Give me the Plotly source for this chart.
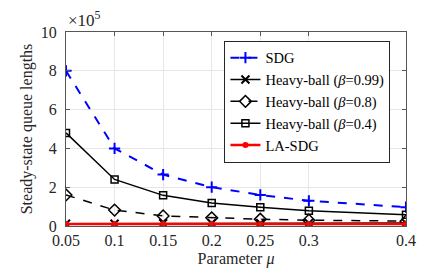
import plotly.graph_objects as go

mu = [0.05, 0.1, 0.15, 0.2, 0.25, 0.3, 0.4]
sdg = [8.0e5, 4.0e5, 2.65e5, 2.0e5, 1.6e5, 1.3e5, 0.97e5]
hb099 = [0.12e5, 0.12e5, 0.14e5, 0.15e5, 0.15e5, 0.15e5, 0.15e5]
hb08 = [1.6e5, 0.82e5, 0.52e5, 0.42e5, 0.35e5, 0.3e5, 0.25e5]
hb04 = [4.8e5, 2.4e5, 1.58e5, 1.18e5, 0.97e5, 0.78e5, 0.58e5]
lasdg = [0.1e5, 0.1e5, 0.1e5, 0.1e5, 0.1e5, 0.1e5, 0.1e5]
yticks = [0, 2e5, 4e5, 6e5, 8e5, 10e5]
yticklabels = ["0", "2", "4", "6", "8", "10"]
xticks = [0.05, 0.1, 0.15, 0.2, 0.25, 0.3, 0.4]
xticklabels = ["0.05", "0.1", "0.15", "0.2", "0.25", "0.3", "0.4"]

font = "Liberation Serif, Times New Roman, serif"
fig = go.Figure()
fig.add_trace(go.Scatter(x=mu, y=sdg, name="SDG", mode="lines+markers",
                         line=dict(color="#0000FF", width=2, dash="dash"),
                         marker=dict(symbol="cross-thin", size=8, line=dict(color="#0000FF", width=2))))
fig.add_trace(go.Scatter(x=mu, y=hb099, name="Heavy-ball (<i>β</i>=0.99)", mode="lines+markers",
                         line=dict(color="black", width=1.5),
                         marker=dict(symbol="x-thin", size=8, line=dict(color="black", width=2))))
fig.add_trace(go.Scatter(x=mu, y=hb08, name="Heavy-ball (<i>β</i>=0.8)", mode="lines+markers",
                         line=dict(color="black", width=1.5, dash="dash"),
                         marker=dict(symbol="diamond-open", size=9, color="black", line=dict(width=1.5))))
fig.add_trace(go.Scatter(x=mu, y=hb04, name="Heavy-ball (<i>β</i>=0.4)", mode="lines+markers",
                         line=dict(color="black", width=1.5),
                         marker=dict(symbol="square-open", size=7, color="black", line=dict(width=1.5))))
fig.add_trace(go.Scatter(x=mu, y=lasdg, name="LA-SDG", mode="lines+markers",
                         line=dict(color="#FF0000", width=2.5),
                         marker=dict(symbol="circle", size=6, color="#FF0000")))

axis_common = dict(showline=True, linecolor="#555555", linewidth=1, mirror="ticks",
                   ticks="inside", ticklen=4, tickcolor="#555555",
                   showgrid=True, gridcolor="#E6E6E6", zeroline=False,
                   tickfont=dict(family=font, size=16, color="#262626"))
fig.update_xaxes(range=[0.05, 0.4], tickvals=xticks, ticktext=xticklabels,
                 title=dict(text="Parameter <i>μ</i>", font=dict(family=font, size=16, color="#262626"), standoff=4),
                 **axis_common)
fig.update_yaxes(range=[0, 10e5], tickvals=yticks, ticktext=yticklabels, ticklabelstandoff=5,
                 title=dict(text="Steady-state queue lengths", font=dict(family=font, size=16, color="#262626"), standoff=4),
                 **axis_common)
fig.add_annotation(text="×10<sup>5</sup>", xref="paper", yref="paper", x=0, y=1,
                   xanchor="left", yanchor="bottom", showarrow=False,
                   font=dict(family=font, size=17, color="#262626"))
fig.update_layout(width=439, height=268, margin=dict(l=58, r=41, t=24, b=47),
                  plot_bgcolor="white", paper_bgcolor="white",
                  legend=dict(x=0.466, y=0.955, xanchor="left", yanchor="top",
                              bgcolor="white", bordercolor="#262626", borderwidth=1,
                              font=dict(family=font, size=14.5, color="black"),
                              tracegroupgap=0, itemwidth=30))
fig.write_html("out.html")
